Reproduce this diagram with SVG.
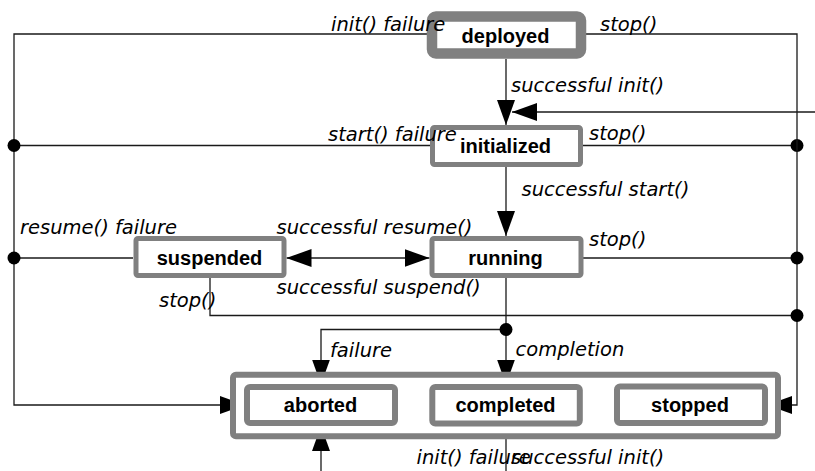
<svg xmlns="http://www.w3.org/2000/svg" width="815" height="471" viewBox="0 0 815 471">
<style>
.box{fill:#fff;stroke:#808080}
.name{font-family:"Liberation Sans",Arial,sans-serif;font-weight:bold;font-size:20px;fill:#000;text-anchor:middle}
.lbl{font-family:"DejaVu Sans",sans-serif;font-style:italic;font-size:19.5px;fill:#000}
.ln{fill:none;stroke:#1a1a1a;stroke-width:1.3}
.arr{marker-end:url(#ah)}
.dot{fill:#000}
</style>
<defs>
<marker id="ah" viewBox="0 0 25 18" refX="25" refY="9" markerWidth="25" markerHeight="18" markerUnits="userSpaceOnUse" orient="auto-start-reverse">
<path d="M0,0L25,9L0,18z" fill="#000"/>
</marker>
</defs>
<rect width="815" height="471" fill="#fff"/>
<g id="connectors">
<path class="ln arr" d="M506,59V125"/>
<path class="ln arr" d="M815,112H512"/>
<path class="ln arr" d="M506,165V236"/>
<path class="ln arr" d="M427,34H14V405H245"/>
<path class="ln" d="M430,145.5H14"/>
<circle class="dot" cx="14" cy="145.5" r="6.5"/>
<path class="ln" d="M583,145.5H797"/>
<circle class="dot" cx="797" cy="145.5" r="6.5"/>
<path class="ln arr" d="M586,34H797V405H767"/>
<path class="ln" d="M133,258H14"/>
<circle class="dot" cx="14" cy="258" r="6.5"/>
<path class="ln" d="M583,258H797"/>
<circle class="dot" cx="797" cy="258" r="6.5"/>
<path class="ln" d="M286.5,258H429.5" marker-start="url(#ah)" marker-end="url(#ah)"/>
<path class="ln" d="M210,278V315.5H797"/>
<circle class="dot" cx="797" cy="315.5" r="6.5"/>
<path class="ln arr" d="M506,278V384.5"/>
<path class="ln arr" d="M506,329.5H321V384.5"/>
<circle class="dot" cx="506" cy="329.5" r="6.5"/>
<path class="ln arr" d="M321,471V426"/>
<path class="ln" d="M506,439V471"/>
</g>
<g id="deployed">
<rect class="box" x="432" y="16.5" width="149" height="37" rx="4" stroke-width="10.5"/>
<text class="name" x="505.5" y="43">deployed</text>
</g>
<g id="initialized">
<rect class="box" x="432.5" y="127.5" width="148" height="37" rx="2" stroke-width="5"/>
<text class="name" x="505.5" y="153">initialized</text>
</g>
<g id="suspended">
<rect class="box" x="136" y="238.5" width="148" height="37" rx="2" stroke-width="5"/>
<text class="name" x="209.5" y="264.5">suspended</text>
</g>
<g id="running">
<rect class="box" x="432" y="238.5" width="149" height="37" rx="2" stroke-width="5"/>
<text class="name" x="505.5" y="264.5">running</text>
</g>
<g id="terminal">
<rect class="box" x="233" y="374.7" width="545" height="61.6" rx="3" stroke-width="6"/>
</g>
<g id="aborted">
<rect class="box" x="247" y="387" width="148" height="36" rx="3" stroke-width="6"/>
<text class="name" x="320.5" y="412">aborted</text>
</g>
<g id="completed">
<rect class="box" x="432.3" y="387" width="147.5" height="36.5" rx="3" stroke-width="6"/>
<text class="name" x="505.5" y="412">completed</text>
</g>
<g id="stopped">
<rect class="box" x="617" y="386.5" width="148" height="36.5" rx="3" stroke-width="6"/>
<text class="name" x="690" y="412">stopped</text>
</g>
<g id="labels">
<text class="lbl" x="331" y="31">init() failure</text>
<text class="lbl" x="600" y="30.5">stop()</text>
<text class="lbl" x="511" y="92">successful init()</text>
<text class="lbl" x="328" y="141">start() failure</text>
<text class="lbl" x="589" y="139.5">stop()</text>
<text class="lbl" x="521.5" y="195.5">successful start()</text>
<text class="lbl" x="20" y="233.5">resume() failure</text>
<text class="lbl" x="276.5" y="233.5">successful resume()</text>
<text class="lbl" x="589" y="245.5">stop()</text>
<text class="lbl" x="276.5" y="293.5">successful suspend()</text>
<text class="lbl" x="159" y="306.5">stop()</text>
<text class="lbl" x="330" y="357">failure</text>
<text class="lbl" x="515.5" y="356">completion</text>
<text class="lbl" x="416.5" y="463.5">init() failure</text>
<text class="lbl" x="511" y="463.5">successful init()</text>
</g>
</svg>
